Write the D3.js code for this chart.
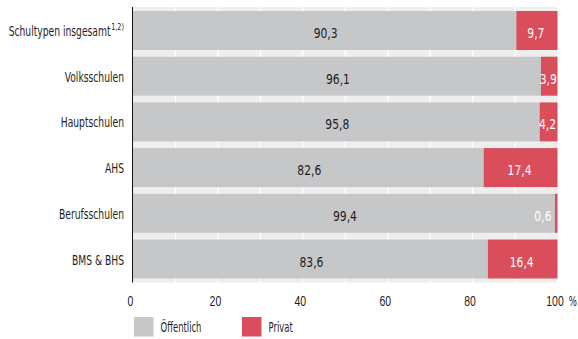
<!DOCTYPE html>
<html><head><meta charset="utf-8">
<script src="https://cdn.jsdelivr.net/npm/d3@7"></script>
<style>
body{margin:0;background:#fff;}
svg{display:block;font-family:"DejaVu Sans",sans-serif;}
</style></head><body>
<svg id="c" width="578" height="339"></svg>
<script>
const categories = ["Schultypen insgesamt","Volksschulen","Hauptschulen","AHS","Berufsschulen","BMS & BHS"];
const oeffentlich = [90.3, 96.1, 95.8, 82.6, 99.4, 83.6];
const privat = [9.7, 3.9, 4.2, 17.4, 0.6, 16.4];
const xTicks = [0, 20, 40, 60, 80, 100];
const seriesNames = ["Öffentlich", "Privat"];
const colors = ["#c6c7c9", "#d94e5a"];

const svg = d3.select("#c");
const x = d3.scaleLinear().domain([0, 100]).range([133, 557.5]);
const y = d3.scaleBand().domain(categories).range([7, 282.5]).paddingInner(0.147).paddingOuter(0.0875);
const fmt = v => v.toFixed(1).replace(".", ",");

// measure a sample to get a horizontal squeeze that mimics a condensed face
function squeeze(sample, size, target) {
  const t = svg.append("text").attr("font-size", size).text(sample);
  const w = t.node().getComputedTextLength();
  t.remove();
  return target / w;
}
const sxCat = squeeze("Schultypen insgesamtVolksschulenBerufsschulen", 13.5, 99 + 66 + 61.6);
const sxNum = squeeze("90,3", 14.5, 24);
const sxTick = squeeze("100", 14.5, 20);
const sxLeg = squeeze("Öffentlich", 14, 41);

function place(sel, fx, fy, sx) {
  sel.attr("transform", (d, i) => `translate(${fx(d, i)},${fy(d, i)}) scale(${sx},1)`);
}

// background
svg.append("rect").attr("x", x(0)).attr("y", 7).attr("width", x(100) - x(0)).attr("height", 275.5).attr("fill", "#edeeed");
// grid
svg.append("g").selectAll("line").data(d3.range(10, 100, 10)).join("line")
  .attr("x1", d => x(d)).attr("x2", d => x(d)).attr("y1", 7).attr("y2", 282.5)
  .attr("stroke", "#fff").attr("stroke-width", 1.2);

// axis line
svg.append("line").attr("x1", x(0) - 0.5).attr("x2", x(0) - 0.5).attr("y1", 7).attr("y2", 282.5).attr("stroke", "#111").attr("stroke-width", 1);

const rows = categories.map((c, i) => ({c, o: oeffentlich[i], p: privat[i]}));
const g = svg.append("g");
g.selectAll("rect.o").data(rows).join("rect")
  .attr("x", x(0)).attr("y", d => y(d.c)).attr("width", d => x(d.o) - x(0)).attr("height", y.bandwidth())
  .attr("fill", colors[0]);
g.selectAll("rect.p").data(rows).join("rect")
  .attr("x", d => x(d.o)).attr("y", d => y(d.c)).attr("width", d => x(100) - x(d.o)).attr("height", y.bandwidth())
  .attr("fill", colors[1]);

const mid = d => y(d.c) + y.bandwidth() / 2;
// value labels
const to = g.selectAll("text.o").data(rows).join("text")
  .attr("text-anchor", "middle").attr("font-size", 14.5).attr("fill", "#1e1e1e")
  .text(d => fmt(d.o));
place(to, d => (x(0) + x(d.o)) / 2 + 1, d => mid(d) + 7.5, sxNum);
const small = d => (x(100) - x(d.o)) < 15;
const tp = g.selectAll("text.p").data(rows).join("text")
  .attr("text-anchor", d => small(d) ? "end" : "middle")
  .attr("font-size", 14.5).attr("fill", "#fff")
  .text(d => fmt(d.p));
place(tp, d => small(d) ? x(100) - 6 : (x(d.o) + x(100)) / 2 - 1, d => mid(d) + 7.5, sxNum);

// category labels
const cl = svg.append("g").selectAll("text").data(categories).join("text")
  .attr("text-anchor", "end").attr("font-size", 13.5).attr("fill", "#1e1e1e");
cl.each(function(d, i) {
  const t = d3.select(this);
  t.append("tspan").text(d);
  if (i === 0) t.append("tspan").attr("font-size", 9.5).attr("dx", 1).attr("dy", "-0.6em").text("1,2)");
});
place(cl, () => 124, d => y(d) + y.bandwidth() / 2 + 5.5, sxCat);

// x axis
const xa = svg.append("g").attr("transform", "translate(0,282.5)")
  .call(d3.axisBottom(x).tickValues(xTicks).tickSize(0).tickFormat(d => d));
xa.select(".domain").remove();
xa.selectAll(".tick text").attr("y", null).attr("dy", null)
  .attr("font-size", 14.5).attr("fill", "#1e1e1e").style("font-family", "inherit")
  .attr("transform", `translate(-3,23) scale(${sxTick},1)`);
svg.append("text").attr("font-size", 14).attr("fill", "#1e1e1e").attr("text-anchor", "end").text("%")
  .attr("transform", `translate(577,305.5) scale(${sxTick * 0.85},1)`);

// legend
const lx = [134, 242];
const leg = svg.append("g").selectAll("g").data(seriesNames).join("g")
  .attr("transform", (d, i) => `translate(${lx[i]},317)`);
leg.append("rect").attr("width", 19.5).attr("height", 19.5).attr("fill", (d, i) => colors[i]);
leg.append("text").attr("font-size", 14).attr("fill", "#1e1e1e").text(d => d)
  .attr("transform", `translate(26.5,14.7) scale(${sxLeg},1)`);
</script>
</body></html>
